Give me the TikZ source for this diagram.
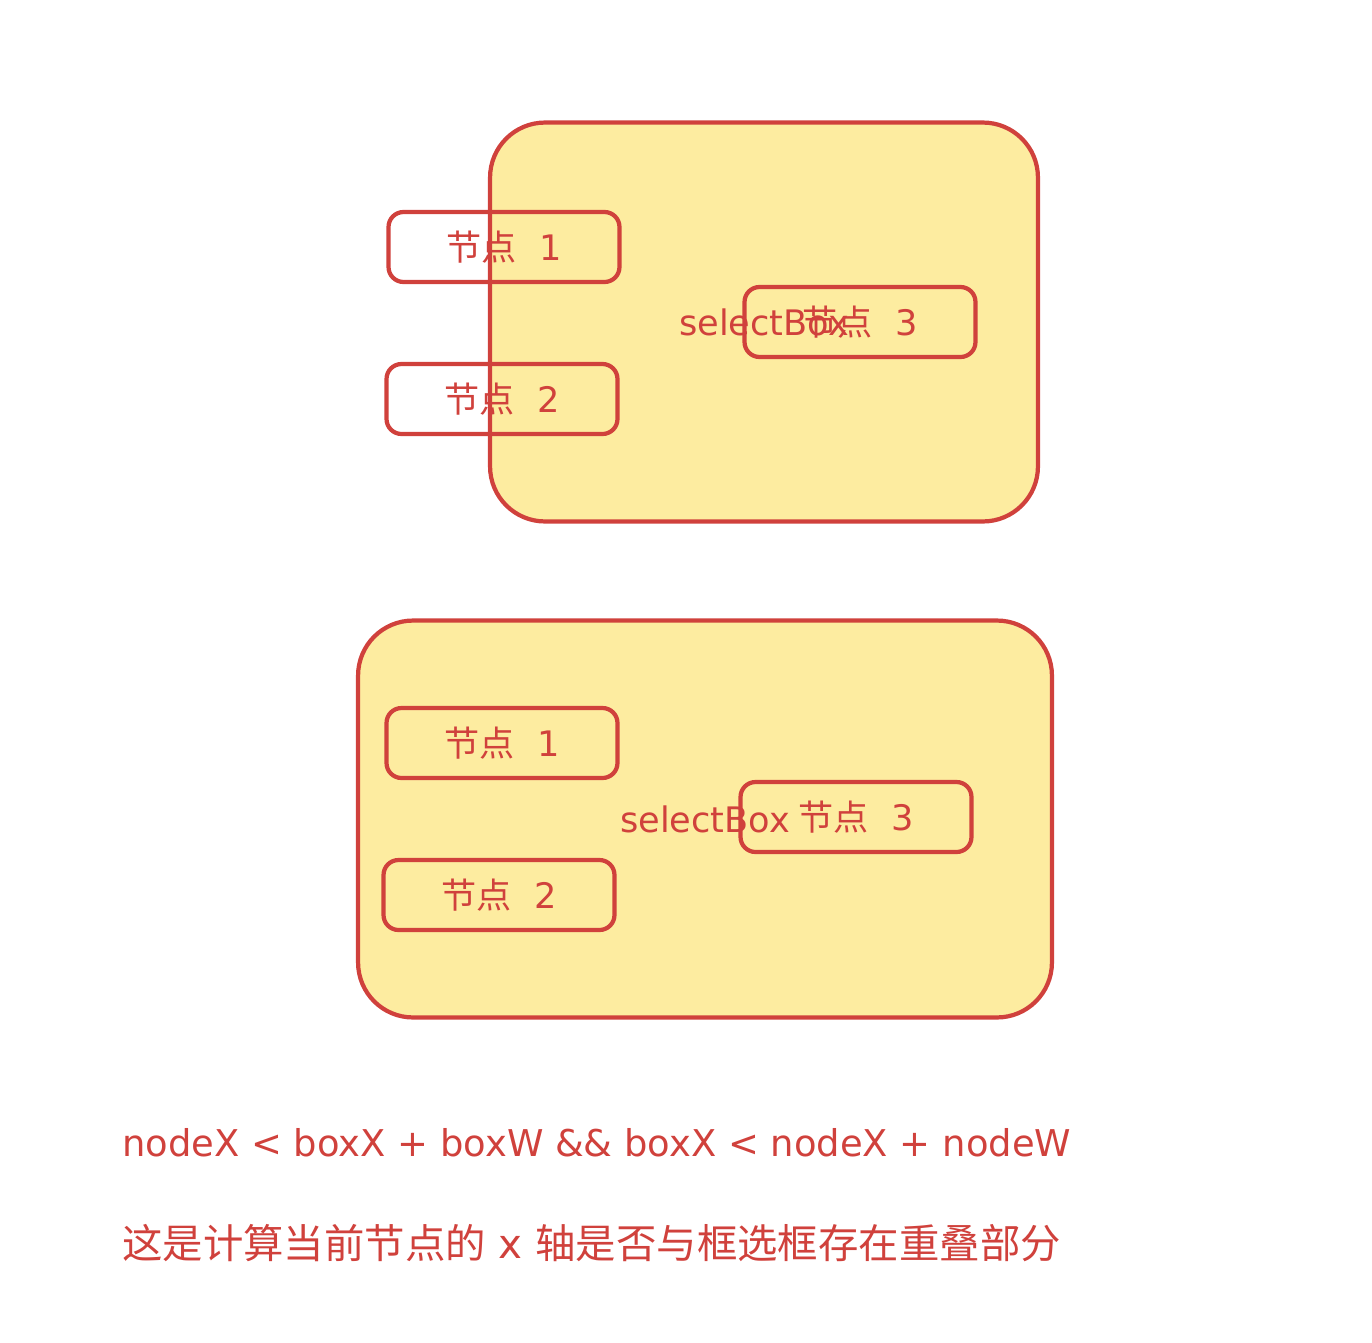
\documentclass[tikz,border=0pt]{standalone}
\usepackage{fontspec}
\setmainfont{DejaVu Sans}
\newfontfamily\cjk{Noto Sans CJK SC}
\usepackage{tikz}

\definecolor{strokered}{RGB}{208,65,60}
\definecolor{boxyellow}{RGB}{253,236,160}

\tikzset{
  bigbox/.style={draw=strokered, fill=boxyellow, line width=2.4pt,
    rounded corners=1.1cm, text=strokered, font=\fontsize{20}{24}\selectfont},
  nodebox/.style={draw=strokered, line width=2.4pt, rounded corners=0.3cm,
    minimum width=4.62cm, minimum height=1.4cm, text=strokered,
    font=\fontsize{20}{24}\selectfont},
  caption/.style={anchor=west, text=strokered, font=\fontsize{21}{25}\selectfont}
}

\begin{document}
\begin{tikzpicture}[x=0.02cm, y=-0.02cm]
	\useasboundingbox (0,0) rectangle (1372,1342);
	
	% felso kijelolo doboz
	\node[bigbox, minimum width=10.96cm, minimum height=7.98cm] (topbox) at (764,322) {selectBox};
	\node[nodebox] (topnodeA) at (504,247) {{\cjk 节点}\ \ 1};
	\node[nodebox] (topnodeB) at (502,399) {{\cjk 节点}\ \ 2};
	\node[nodebox] (topnodeC) at (860,322) {{\cjk 节点}\ \ 3};
	
	% also kijelolo doboz
	\node[bigbox, minimum width=13.88cm, minimum height=7.94cm] (lowbox) at (705,819) {selectBox};
	\node[nodebox] (lownodeA) at (502,743) {{\cjk 节点}\ \ 1};
	\node[nodebox] (lownodeB) at (499,895) {{\cjk 节点}\ \ 2};
	\node[nodebox] (lownodeC) at (856,817) {{\cjk 节点}\ \ 3};
	
	% feltetel
	\node[caption] (cond) at (116,1143) {nodeX < boxX + boxW \&\& boxX < nodeX + nodeW};
	\node[caption, font=\fontsize{23}{27}\selectfont] (note) at (116,1243) {{\cjk 这是计算当前节点的} x {\cjk 轴是否与框选框存在重叠部分}};
	
\end{tikzpicture}
\end{document}
